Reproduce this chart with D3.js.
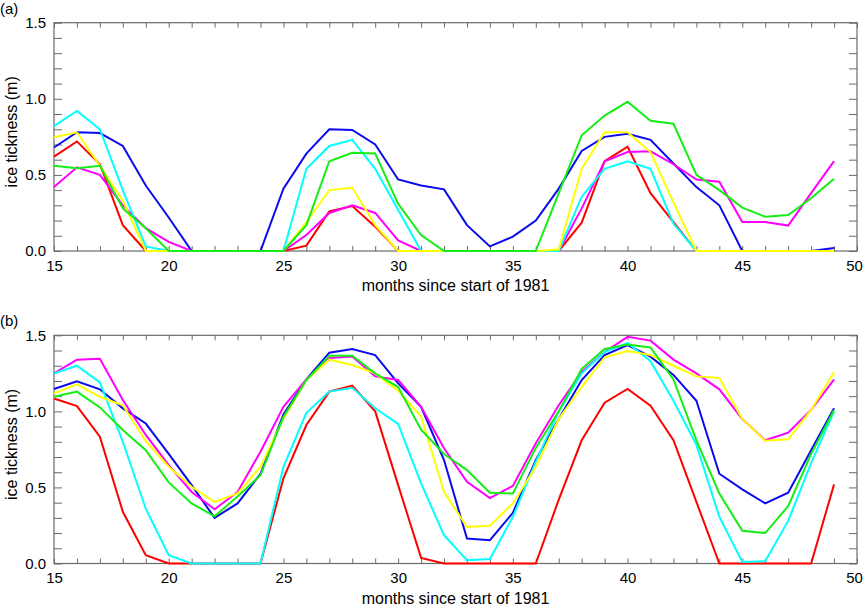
<!DOCTYPE html>
<html>
<head>
<meta charset="utf-8">
<script src="https://cdn.jsdelivr.net/npm/d3@7"></script>
<style>
  html, body { margin: 0; padding: 0; background: #fff; }
  svg { display: block; font-family: "Liberation Sans", Arial, Helvetica, sans-serif; }
</style>
</head>
<body>
<svg id="chart" width="864" height="606"></svg>
<script>
// ---- data ----
const months = d3.range(15, 50); // 15..49
const xTickLabels = [15, 20, 25, 30, 35, 40, 45, 50];
const yTickLabels = [0.0, 0.5, 1.0, 1.5];
const seriesNames = ["blue", "red", "magenta", "cyan", "yellow", "green"];
const seriesColors = ["#0a0aee", "#ff0000", "#ff00ff", "#00ffff", "#ffff00", "#14ee14"];

// panel (a)
const blueA    = [0.68,0.78,0.775,0.69,0.43,0.22,0,0,0,0, 0.41,0.64,0.80,0.795,0.70,0.47,0.43,0.405,0.17,0.03, 0.094,0.20,0.41,0.657,0.75,0.77,0.73,0.575,0.42,0.30, 0,0,0,0,0.02];
const redA     = [0.62,0.72,0.57,0.17,0,0,0,0,0,0, 0,0.035,0.26,0.295,0.16,0,0,0,0,0, 0,0,0,0.186,0.59,0.685,0.38,0.19,0,0, 0,0,0,0,0];
const magentaA = [0.42,0.55,0.50,0.30,0.15,0.06,0,0,0,0, 0,0.105,0.25,0.30,0.25,0.07,0,0,0,0, 0,0,0,0.28,0.59,0.65,0.655,0.57,0.47,0.455, 0.19,0.19,0.167,0.38,0.59];
const cyanA    = [0.82,0.92,0.80,0.40,0.03,0,0,0,0,0, 0,0.54,0.69,0.73,0.54,0.27,0,0,0,0, 0,0,0,0.357,0.54,0.59,0.54,0.18,0,0, 0,0,0,0,0];
const yellowA  = [0.747,0.78,0.56,0.33,0,0,0,0,0,0, 0,0.19,0.40,0.415,0.17,0,0,0,0,0, 0,0,0.01,0.54,0.78,0.78,0.65,0.32,0,0, 0,0,0,0,0];
const greenA   = [0.56,0.543,0.56,0.28,0.15,0,0,0,0,0, 0,0.17,0.59,0.645,0.64,0.31,0.105,0,0,0, 0,0,0.38,0.76,0.89,0.98,0.856,0.836,0.50,0.40, 0.285,0.225,0.236,0.346,0.475];

// panel (b)
const blueB    = [1.147,1.197,1.145,1.02,0.92,0.72,0.515,0.30,0.395,0.59, 0.98,1.21,1.386,1.41,1.37,1.184,1.03,0.68,0.164,0.153, 0.333,0.68,0.95,1.206,1.37,1.436,1.36,1.24,1.07,0.59, 0.487,0.395,0.465,0.745,1.02];
const redB     = [1.085,1.035,0.833,0.34,0.055,0,0,0,0,0, 0.56,0.91,1.13,1.17,1.0,0.515,0.037,0,0,0, 0,0,0.42,0.81,1.057,1.147,1.037,0.81,0.405,0, 0,0,0,0,0.52];
const magentaB = [1.25,1.34,1.346,1.075,0.845,0.647,0.47,0.357,0.47,0.735, 1.03,1.21,1.35,1.36,1.23,1.206,1.03,0.757,0.537,0.43, 0.51,0.79,1.04,1.26,1.39,1.49,1.465,1.34,1.25,1.145, 0.95,0.81,0.86,1.01,1.21];
const cyanB    = [1.25,1.30,1.19,0.80,0.36,0.055,0,0,0,0, 0.636,0.99,1.13,1.155,1.02,0.917,0.526,0.186,0.022,0.03, 0.307,0.67,1.0,1.25,1.39,1.45,1.33,1.07,0.78,0.307, 0.01,0.015,0.28,0.66,1.0];
const yellowB  = [1.118,1.178,1.096,1.04,0.805,0.636,0.504,0.405,0.46,0.636, 0.954,1.206,1.34,1.305,1.25,1.136,0.965,0.47,0.24,0.248, 0.395,0.636,0.95,1.16,1.355,1.397,1.37,1.30,1.23,1.22, 0.95,0.807,0.816,1.01,1.257];
const greenB   = [1.096,1.13,1.026,0.877,0.745,0.533,0.395,0.31,0.44,0.58, 0.965,1.206,1.366,1.366,1.25,1.16,0.88,0.72,0.614,0.465, 0.46,0.76,1.0,1.28,1.41,1.44,1.42,1.21,0.81,0.46, 0.215,0.20,0.377,0.72,1.01];

const panels = [
  { label: "(a)", series: [blueA, redA, magentaA, cyanA, yellowA, greenA], top: 22.7, bottom: 251 },
  { label: "(b)", series: [blueB, redB, magentaB, cyanB, yellowB, greenB], top: 335.3, bottom: 563.5 }
];

// ---- drawing ----
const svg = d3.select("#chart");
const left = 54, right = 857;
const axisColor = "#6a6a6a";

panels.forEach(p => {
  const x = d3.scaleLinear().domain([15, 50]).range([left, right]);
  const y = d3.scaleLinear().domain([0, 1.5]).range([p.bottom, p.top]);
  const g = svg.append("g");

  const xTicks = d3.range(15, 51);
  const yTicks = d3.range(0, 16).map(d => d / 10);
  const fmtX = d => xTickLabels.includes(d) ? String(d) : "";
  const fmtY = d => yTickLabels.some(v => Math.abs(v - d) < 1e-9) ? d3.format(".1f")(d) : "";

  const styleAxis = sel => {
    sel.select(".domain").remove();
    sel.selectAll(".tick line").attr("stroke", axisColor).attr("stroke-width", 1);
    sel.selectAll(".tick text").attr("fill", "#000").attr("font-size", 15)
      .attr("font-family", "'Liberation Sans', Arial, sans-serif");
  };

  const bottomAxis = g.append("g").attr("transform", `translate(0,${p.bottom})`)
    .call(d3.axisBottom(x).tickValues(xTicks).tickSize(-5).tickPadding(9).tickFormat(fmtX))
    .call(styleAxis);
  // keep the last label ("50") inside the page, as in the reference
  bottomAxis.selectAll(".tick text").filter(d => d === 50).attr("dx", -3);

  g.append("g").attr("transform", `translate(0,${p.top})`)
    .call(d3.axisTop(x).tickValues(xTicks).tickSize(-5).tickFormat(""))
    .call(styleAxis);
  g.append("g").attr("transform", `translate(${left},0)`)
    .call(d3.axisLeft(y).tickValues(yTicks).tickSize(-8).tickPadding(8).tickFormat(fmtY))
    .call(styleAxis);
  g.append("g").attr("transform", `translate(${right},0)`)
    .call(d3.axisRight(y).tickValues(yTicks).tickSize(-8).tickFormat(""))
    .call(styleAxis);

  // frame
  g.append("rect")
    .attr("x", left).attr("y", p.top)
    .attr("width", right - left).attr("height", p.bottom - p.top)
    .attr("fill", "none").attr("stroke", axisColor).attr("stroke-width", 1.2);

  const line = d3.line().x((d, i) => x(months[i])).y(d => y(d));
  p.series.forEach((s, k) => {
    g.append("path")
      .datum(s)
      .attr("d", line)
      .attr("fill", "none")
      .attr("stroke", seriesColors[k])
      .attr("stroke-width", 2)
      .attr("stroke-linejoin", "miter");
  });

  // panel label
  g.append("text").attr("x", 0).attr("y", p.top - 9)
    .attr("font-size", 15).text(p.label);

  // x title
  g.append("text").attr("x", (left + right) / 2).attr("y", p.bottom + 40)
    .attr("text-anchor", "middle").attr("font-size", 16)
    .text("months since start of 1981");

  // y title
  const cy = (p.top + p.bottom) / 2 - 5;
  g.append("text")
    .attr("transform", `translate(17,${cy}) rotate(-90)`)
    .attr("text-anchor", "middle").attr("font-size", 16)
    .text("ice tickness (m)");
});
</script>
</body>
</html>
